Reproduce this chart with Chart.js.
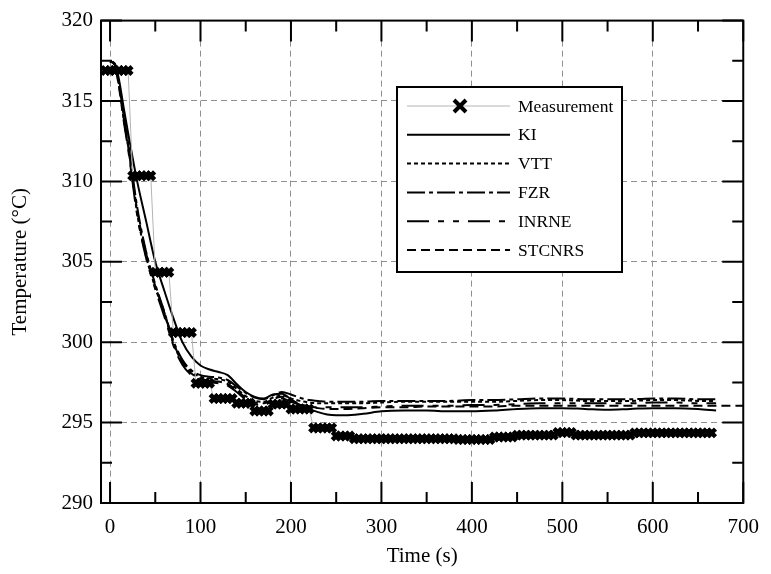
<!DOCTYPE html>
<html>
<head>
<meta charset="utf-8">
<script src="https://cdn.jsdelivr.net/npm/chart.js@4.4.0/dist/chart.umd.min.js"></script>
<style>
  html, body { margin: 0; padding: 0; background: #fff; }
</style>
</head>
<body>
<canvas id="chart" width="771" height="574"></canvas>
<script>
// Measured coolant temperature (s, degC)
const measTime = [
  -5, 0, 5, 10, 15, 20, 25, 30, 35, 40, 45, 50, 55, 60, 65, 70, 75, 80, 85, 90,
  95, 100, 105, 110, 115, 120, 125, 130, 135, 140, 145, 150, 155, 160, 165, 170, 175, 180, 185, 190,
  195, 200, 205, 210, 215, 220, 225, 230, 235, 240, 245, 250, 255, 260, 265, 270, 275, 280, 285, 290,
  295, 300, 305, 310, 315, 320, 325, 330, 335, 340, 345, 350, 355, 360, 365, 370, 375, 380, 385, 390,
  395, 400, 405, 410, 415, 420, 425, 430, 435, 440, 445, 450, 455, 460, 465, 470, 475, 480, 485, 490,
  495, 500, 505, 510, 515, 520, 525, 530, 535, 540, 545, 550, 555, 560, 565, 570, 575, 580, 585, 590,
  595, 600, 605, 610, 615, 620, 625, 630, 635, 640, 645, 650, 655, 660, 665
];
const measTemp = [
  316.9, 316.9, 316.9, 316.9, 316.9, 316.9, 310.35, 310.35, 310.35, 310.35, 310.35,
  304.35, 304.35, 304.35, 304.35, 300.6, 300.6, 300.6, 300.6, 300.6,
  297.45, 297.45, 297.45, 297.45, 296.5, 296.5, 296.5, 296.5, 296.5,
  296.2, 296.2, 296.2, 296.2, 295.72, 295.72, 295.72, 295.72, 296.15, 296.15, 296.15,
  296.15, 295.85, 295.85, 295.85, 295.85, 295.85, 294.67, 294.67, 294.67, 294.67, 294.67,
  294.17, 294.17, 294.17, 294.17, 294.0, 294.0, 294.0, 294.0, 294.0,
  294.0, 294.0, 294.0, 294.0, 294.0, 294.0, 294.0, 294.0, 294.0, 294.0,
  294.0, 294.0, 294.0, 294.0, 294.0, 294.0, 294.0, 294.0, 293.95, 293.95,
  293.95, 293.95, 293.95, 293.95, 293.95, 293.95, 294.1, 294.1, 294.1, 294.1, 294.1,
  294.22, 294.22, 294.22, 294.22, 294.22, 294.22, 294.22, 294.22, 294.22,
  294.38, 294.38, 294.38, 294.38, 294.22, 294.22, 294.22, 294.22, 294.22, 294.22,
  294.22, 294.22, 294.22, 294.22, 294.22, 294.22, 294.22, 294.36, 294.36, 294.36,
  294.36, 294.36, 294.36, 294.36, 294.36, 294.36, 294.36, 294.36, 294.36, 294.36,
  294.36, 294.36, 294.36, 294.36, 294.36
];

// Code predictions on a common time grid
const simTime = [0, 5, 10, 15, 20, 30, 40, 50, 60, 70, 80, 90, 100, 110, 120, 130, 140, 150, 160, 170,
  180, 190, 200, 210, 220, 230, 240, 250, 260, 280, 300, 325, 350, 375, 400, 425, 450, 475, 500, 525,
  550, 575, 600, 625, 650, 670, 700];
const kiTemp = [317.45, 317.35, 316.3, 314.6, 313.0, 310.0, 307.5, 305.0, 303.2, 301.5, 300.0, 299.1,
  298.55, 298.3, 298.15, 297.95, 297.4, 296.9, 296.6, 296.5, 296.75, 296.8, 296.45, 296.1, 295.85,
  295.65, 295.5, 295.45, 295.45, 295.55, 295.7, 295.75, 295.75, 295.7, 295.7, 295.75, 295.85, 295.9,
  295.9, 295.85, 295.8, 295.85, 295.9, 295.9, 295.85, 295.75, null];
const vttTemp = [317.45, 317.3, 315.9, 313.9, 312.2, 308.0, 305.3, 303.4, 301.8, 299.9, 298.8, 298.15,
  297.85, 297.75, 297.7, 297.55, 297.1, 296.65, 296.35, 296.3, 296.55, 296.7, 296.5, 296.35, 296.25,
  296.2, 296.2, 296.2, 296.2, 296.2, 296.25, 296.3, 296.3, 296.3, 296.3, 296.3, 296.35, 296.4,
  296.4, 296.35, 296.35, 296.35, 296.4, 296.4, 296.35, 296.35, null];
const fzrTemp = [317.45, 317.3, 316.0, 314.1, 312.4, 308.4, 305.6, 303.6, 301.9, 300.1, 298.9, 298.25,
  297.95, 297.85, 297.8, 297.65, 297.25, 296.85, 296.55, 296.45, 296.7, 296.9, 296.75, 296.55, 296.4,
  296.35, 296.3, 296.3, 296.3, 296.3, 296.35, 296.35, 296.35, 296.35, 296.4, 296.4, 296.45, 296.5,
  296.5, 296.45, 296.45, 296.45, 296.5, 296.5, 296.45, 296.45, null];
const inrneTemp = [317.45, 317.25, 315.8, 313.8, 312.0, 307.9, 305.2, 303.3, 301.6, 299.8, 298.6, 297.95,
  297.65, 297.5, 297.45, 297.3, 296.9, 296.45, 296.15, 296.1, 296.35, 296.5, 296.3, 296.1, 296.0,
  295.95, 295.95, 295.95, 295.95, 295.95, 296.0, 296.05, 296.05, 296.05, 296.1, 296.1, 296.15, 296.2,
  296.2, 296.2, 296.2, 296.2, 296.25, 296.25, 296.2, 296.2, null];
const stcnrsTemp = [317.45, 317.3, 315.95, 314.0, 312.2, 308.2, 305.5, 303.5, 301.85, 300.0, 298.75, 298.05,
  297.75, 297.6, 297.55, 297.4, 297.0, 296.55, 296.25, 296.2, 296.45, 296.6, 296.4, 296.15, 296.0,
  295.9, 295.85, 295.85, 295.85, 295.9, 295.95, 295.95, 296.0, 296.0, 296.0, 296.0, 296.05, 296.05,
  296.05, 296.05, 296.05, 296.05, 296.05, 296.05, 296.05, 296.05, 296.05];

const xTicks = [0, 100, 200, 300, 400, 500, 600, 700];
const xMinor = [50, 150, 250, 350, 450, 550, 650];
const yTicks = [290, 295, 300, 305, 310, 315, 320];
const yMinor = [292.5, 297.5, 302.5, 307.5, 312.5, 317.5];

const serif = 'Liberation Serif';
const pts = (xs, ys) => xs.map((t, i) => ({ x: t, y: ys[i] }));

function curve(label, values, dash) {
  return {
    label,
    data: pts(simTime, values),
    borderColor: '#000',
    borderWidth: 2,
    borderDash: dash,
    pointRadius: 0,
    cubicInterpolationMode: 'monotone',
    fill: false
  };
}

// inward ticks, plot frame and the boxed legend
const frameLegend = {
  id: 'frameLegend',
  afterDraw(chart) {
    const { ctx, chartArea: a, scales: { x, y } } = chart;
    ctx.save();
    ctx.strokeStyle = '#000';
    ctx.lineWidth = 2;
    ctx.setLineDash([]);
    ctx.beginPath();
    const xMarks = (vals, len) => vals.forEach(v => {
      const p = x.getPixelForValue(v);
      ctx.moveTo(p, a.bottom); ctx.lineTo(p, a.bottom - len);
      ctx.moveTo(p, a.top); ctx.lineTo(p, a.top + len);
    });
    const yMarks = (vals, len) => vals.forEach(v => {
      const p = y.getPixelForValue(v);
      ctx.moveTo(a.left, p); ctx.lineTo(a.left + len, p);
      ctx.moveTo(a.right, p); ctx.lineTo(a.right - len, p);
    });
    xMarks(xTicks, 21); xMarks(xMinor, 11);
    yMarks(yTicks, 21); yMarks(yMinor, 11);
    ctx.stroke();
    ctx.strokeRect(a.left, a.top, a.right - a.left, a.bottom - a.top);

    // legend
    const bx = 397, by = 87, bw = 225, bh = 185;
    ctx.fillStyle = '#fff';
    ctx.fillRect(bx, by, bw, bh);
    ctx.strokeRect(bx, by, bw, bh);
    ctx.font = '17.5px "' + serif + '"';
    ctx.textBaseline = 'middle';
    chart.data.datasets.forEach((ds, i) => {
      const cy = by + 19 + i * 28.8;
      ctx.beginPath();
      ctx.setLineDash(ds.borderDash || []);
      ctx.strokeStyle = ds.borderColor;
      ctx.lineWidth = ds.borderWidth;
      ctx.moveTo(407, cy); ctx.lineTo(510, cy);
      ctx.stroke();
      if (ds.pointStyle === 'crossRot') {
        ctx.setLineDash([]);
        ctx.strokeStyle = '#000';
        ctx.lineWidth = 4;
        ctx.beginPath();
        ctx.moveTo(454, cy - 6); ctx.lineTo(466, cy + 6);
        ctx.moveTo(454, cy + 6); ctx.lineTo(466, cy - 6);
        ctx.stroke();
      }
      ctx.fillStyle = '#000';
      ctx.fillText(ds.label, 518, cy + 1);
    });
    ctx.restore();
  }
};

new Chart(document.getElementById('chart'), {
  type: 'line',
  data: {
    datasets: [
      {
        label: 'Measurement',
        data: pts(measTime, measTemp),
        borderColor: '#b4b4b4',
        borderWidth: 1,
        pointStyle: 'crossRot',
        pointRadius: 5.5,
        pointBorderWidth: 4.5,
        pointBorderColor: '#000',
        pointBackgroundColor: '#000',
        fill: false
      },
      curve('KI', kiTemp, []),
      curve('VTT', vttTemp, [4, 3]),
      curve('FZR', fzrTemp, [18, 4, 4, 4]),
      curve('INRNE', inrneTemp, [22, 9, 6, 9, 6, 9]),
      curve('STCNRS', stcnrsTemp, [9, 5])
    ]
  },
  options: {
    responsive: false,
    animation: false,
    layout: { padding: { top: 18, right: 21, left: 0, bottom: 0 } },
    plugins: { legend: { display: false }, tooltip: { enabled: false } },
    scales: {
      x: {
        type: 'linear',
        min: -10,
        max: 700,
        afterBuildTicks: s => { s.ticks = xTicks.map(v => ({ value: v })); },
        afterFit: s => { s.height = 71; },
        grid: { color: '#909090', lineWidth: 1, drawTicks: false },
        border: { display: false, dash: [6, 4] },
        ticks: { color: '#000', font: { family: serif, size: 21 }, padding: 12, maxRotation: 0 },
        title: { display: true, text: 'Time (s)', color: '#000', font: { family: serif, size: 21 }, padding: { top: 0, bottom: 5 } }
      },
      y: {
        type: 'linear',
        min: 290,
        max: 320,
        afterBuildTicks: s => { s.ticks = yTicks.map(v => ({ value: v })); },
        afterFit: s => { s.width = 101; },
        grid: { color: '#909090', lineWidth: 1, drawTicks: false },
        border: { display: false, dash: [6, 4] },
        ticks: { color: '#000', font: { family: serif, size: 21 }, padding: 8 },
        title: { display: true, text: 'Temperature (°C)', color: '#000', font: { family: serif, size: 21 }, padding: { top: 8, bottom: 0 } }
      }
    }
  },
  plugins: [frameLegend]
});
</script>
</body>
</html>
